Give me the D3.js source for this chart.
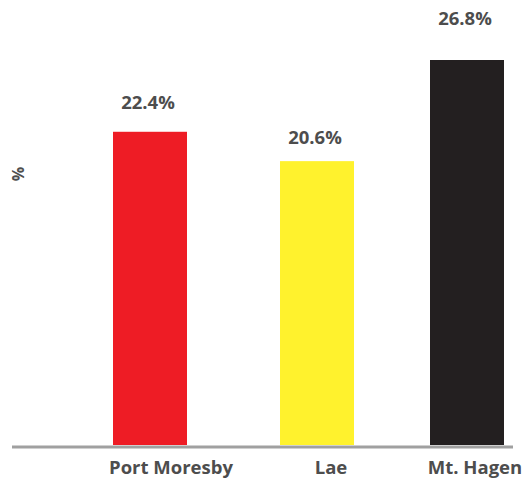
<!DOCTYPE html>
<html>
<head>
<meta charset="utf-8">
<script src="https://cdn.jsdelivr.net/npm/d3@7"></script>
<style>
  body { margin: 0; background: #fff; }
  text { font-family: "Open Sans", sans-serif; font-weight: 700; fill: #4d4d4d; }
</style>
</head>
<body>
<div id="chart"></div>
<script>
// data
const cities = ["Port Moresby", "Lae", "Mt. Hagen"]
const shares = [22.4, 20.6, 26.8]
const colors = ["#ee1c25", "#fff22d", "#231f20"]

const dimensions = { width: 531, height: 479 }

const svg = d3.select("#chart")
    .append("svg")
    .attr("width", dimensions.width)
    .attr("height", dimensions.height)

// scales
const xBar = d3.scaleOrdinal().domain(cities).range([113, 280, 430])
const xLabel = d3.scaleOrdinal().domain(cities).range([171, 331, 475])
const barWidth = 74
const yScale = d3.scaleLinear().domain([3.2, 26.8]).range([445, 60])
const labelY = d3.scaleLinear().domain([20.6, 26.8]).range([144, 25])
const color = d3.scaleOrdinal().domain(cities).range(colors)

const data = cities.map((c, i) => ({ city: c, value: shares[i] }))

// bars
svg.selectAll("rect.bar")
    .data(data)
    .join("rect")
    .attr("class", "bar")
    .attr("x", d => xBar(d.city))
    .attr("y", d => yScale(d.value))
    .attr("width", barWidth)
    .attr("height", d => yScale.range()[0] - yScale(d.value))
    .attr("fill", d => color(d.city))

// value labels
svg.selectAll("text.value")
    .data(data)
    .join("text")
    .attr("class", "value")
    .attr("x", d => xBar(d.city) + barWidth / 2 - 2)
    .attr("y", d => labelY(d.value))
    .attr("text-anchor", "middle")
    .style("font-size", "18.5px")
    .text(d => d.value.toFixed(1) + "%")

// baseline
svg.append("line")
    .attr("x1", 12).attr("x2", 513)
    .attr("y1", 447).attr("y2", 447)
    .attr("stroke", "#a0a0a0")
    .attr("stroke-width", 3)

// category labels
svg.selectAll("text.cat")
    .data(data)
    .join("text")
    .attr("class", "cat")
    .attr("x", d => xLabel(d.city))
    .attr("y", 474)
    .attr("text-anchor", "middle")
    .style("font-size", "18.5px")
    .text(d => d.city)

// y label
svg.append("text")
    .attr("transform", "translate(24,174) rotate(-90)")
    .attr("text-anchor", "middle")
    .style("font-size", "16px")
    .text("%")
</script>
</body>
</html>
